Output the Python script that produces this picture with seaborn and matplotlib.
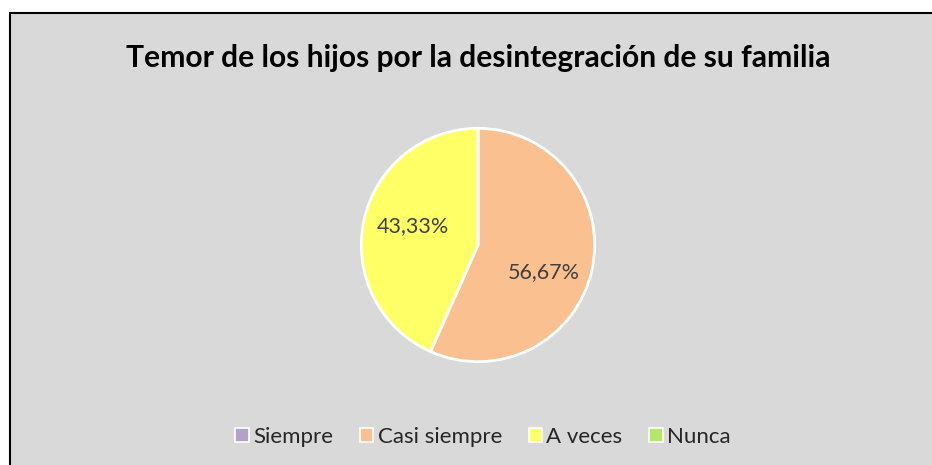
import matplotlib.pyplot as plt
import seaborn as sns
from matplotlib.patches import Rectangle, Patch

sns.set_theme(style="white")
plt.rcParams['font.family'] = ['Lato', 'DejaVu Sans']

# data
categorias = ['Siempre', 'Casi siempre', 'A veces', 'Nunca']
porcentajes = [0.0, 56.67, 43.33, 0.0]
colores = ['#b3a2c7', '#fac090', '#ffff66', '#b3e66b']
titulo = 'Temor de los hijos por la desintegración de su familia'

fig = plt.figure(figsize=(9.32, 4.65), dpi=100, facecolor='white')
# chart area box
fig.patches.append(Rectangle((9.5 / 932, -0.01), 1.0, 451.5 / 465 + 0.01,
                             transform=fig.transFigure, facecolor='#d9d9d9',
                             edgecolor='black', linewidth=1.5, zorder=-1))

fig.text(478 / 932, 1 - 58 / 465, titulo, ha='center', va='center',
         fontsize=21.6, fontweight='bold', color='black')

ax = fig.add_axes([(478 - 119) / 932, (465 - 245 - 119) / 465, 238 / 932, 238 / 465])
ax.set_facecolor('none')
ax.set_zorder(2)


def etiqueta(p):
    return '' if p < 0.01 else f'{p:.2f}%'.replace('.', ',')


wedges, textos, autot = ax.pie(porcentajes, colors=colores, startangle=90,
                               counterclock=False, autopct=etiqueta,
                               pctdistance=0.6,
                               wedgeprops=dict(edgecolor='white', linewidth=2),
                               textprops=dict(color='#404040', fontsize=15.5))
# Excel-like label placement
autot[1].set_position((0.56, -0.23))
autot[2].set_position((-0.56, 0.16))
ax.set_xlim(-1.02, 1.02)
ax.set_ylim(-1.02, 1.02)
ax.axis('off')

handles = [Patch(facecolor=c, edgecolor='white', linewidth=1.2) for c in colores]
fig.legend(handles, categorias, loc='center', bbox_to_anchor=(483 / 932, 1 - 437 / 465),
           ncol=4, frameon=False, fontsize=16, handlelength=0.6, handleheight=0.6,
           handletextpad=0.2, columnspacing=1.2)

fig.savefig('out.png', dpi=100, facecolor='white')
